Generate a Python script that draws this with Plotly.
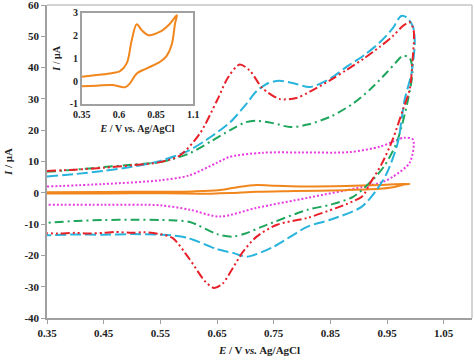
import plotly.graph_objects as go

# ---- data (E / V vs Ag/AgCl, I / uA) ----
red_x = [0.35, 0.40, 0.45, 0.50, 0.55, 0.585, 0.62, 0.65, 0.67, 0.69, 0.708, 0.73, 0.76, 0.79, 0.814, 0.85, 0.879, 0.91, 0.937, 0.96, 0.978, 0.99, 0.997,
         0.995, 0.99, 0.978, 0.96, 0.94, 0.92, 0.907, 0.88, 0.861, 0.81, 0.756, 0.72, 0.696, 0.678, 0.66, 0.645, 0.63, 0.60, 0.572, 0.55, 0.52, 0.50, 0.47, 0.45, 0.42, 0.40, 0.37, 0.35]
red_y = [7.0, 7.4, 8.0, 8.8, 9.8, 12.0, 19.0, 29.5, 37.0, 41.0, 39.0, 33.5, 30.0, 30.3, 32.3, 36.0, 39.3, 43.0, 46.6, 50.0, 53.3, 54.5, 52.0,
         42.0, 33.0, 26.5, 17.0, 9.0, 3.0, -1.0, -3.5, -4.8, -8.0, -10.2, -14.0, -18.8, -24.0, -29.0, -30.4, -28.5, -20.8, -14.5, -13.2, -12.6, -12.8, -12.5, -12.8, -13.0, -12.8, -13.0, -12.9]

cyan_x = [0.35, 0.40, 0.45, 0.50, 0.55, 0.60, 0.64, 0.673, 0.70, 0.72, 0.74, 0.76, 0.785, 0.814, 0.85, 0.879, 0.91, 0.937, 0.96, 0.975, 0.985, 0.996, 0.999,
          0.993, 0.981, 0.969, 0.95, 0.932, 0.905, 0.85, 0.81, 0.749, 0.703, 0.678, 0.65, 0.60, 0.57, 0.55, 0.50, 0.45, 0.40, 0.35]
cyan_y = [5.2, 6.0, 7.0, 8.3, 10.2, 13.5, 18.0, 22.5, 28.0, 32.5, 35.0, 35.8, 35.0, 33.8, 36.5, 40.3, 44.0, 48.0, 52.5, 56.5, 56.0, 53.0, 48.0,
          38.0, 29.7, 16.0, 6.4, 1.0, -4.5, -8.6, -10.8, -17.3, -20.4, -19.2, -18.0, -14.5, -13.6, -13.4, -13.2, -13.4, -13.3, -13.6]

green_x = [0.35, 0.40, 0.45, 0.50, 0.55, 0.60, 0.64, 0.673, 0.70, 0.72, 0.75, 0.779, 0.81, 0.85, 0.89, 0.92, 0.95, 0.965, 0.978, 0.99, 0.995,
           0.987, 0.967, 0.945, 0.925, 0.89, 0.85, 0.81, 0.73, 0.70, 0.678, 0.65, 0.602, 0.57, 0.55, 0.50, 0.45, 0.40, 0.35]
green_y = [6.7, 7.4, 8.2, 9.0, 9.8, 12.5, 16.5, 20.0, 22.5, 23.0, 22.2, 21.0, 21.8, 24.3, 28.5, 33.0, 38.5, 41.5, 43.8, 43.0, 39.0,
           29.7, 16.0, 8.5, 4.2, -1.3, -3.8, -5.4, -10.8, -13.0, -14.0, -13.2, -9.3, -8.8, -8.7, -8.6, -8.7, -9.0, -9.6]

pink_x = [0.35, 0.45, 0.55, 0.60, 0.65, 0.673, 0.73, 0.80, 0.884, 0.937, 0.96, 0.98, 0.996,
          0.99, 0.96, 0.943, 0.907, 0.81, 0.72, 0.655, 0.602, 0.55, 0.45, 0.35]
pink_y = [2.0, 2.8, 4.0, 5.5, 9.6, 11.5, 12.8, 12.9, 13.0, 14.7, 16.3, 17.6, 17.0,
          9.6, 5.1, 3.5, 1.9, -1.6, -4.8, -7.6, -5.4, -4.0, -3.8, -3.8]

orange_x = [0.35, 0.45, 0.55, 0.607, 0.652, 0.686, 0.72, 0.753, 0.798, 0.877, 0.94, 0.99,
            0.978, 0.955, 0.92, 0.877, 0.787, 0.72, 0.674, 0.64, 0.56, 0.45, 0.35]
orange_y = [0.19, 0.27, 0.35, 0.44, 0.78, 1.8, 2.5, 2.24, 2.02, 2.17, 2.5, 2.9,
            2.54, 1.6, 1.1, 0.85, 0.56, 0.34, -0.1, -0.27, -0.17, -0.2, -0.22]

x_ticks = [0.35, 0.45, 0.55, 0.65, 0.75, 0.85, 0.95, 1.05]
y_ticks = [-40, -30, -20, -10, 0, 10, 20, 30, 40, 50, 60]
inset_x_ticks = [0.35, 0.6, 0.85, 1.1]
inset_x_text = ["0.35", "0.6", "0.85", "1.1"]
inset_y_ticks = [-1, 0, 1, 2, 3]

FONT = "Liberation Serif"
fig = go.Figure()

def add(x, y, color, dash, xa="x", ya="y", w=2, sm=0.8):
    fig.add_trace(go.Scatter(x=x, y=y, mode="lines", xaxis=xa, yaxis=ya,
                             line=dict(color=color, width=w, dash=dash, shape="spline", smoothing=sm),
                             showlegend=False, hoverinfo="skip"))

add(pink_x, pink_y, "#e83ce0", "2px,2px")
add(orange_x, orange_y, "#f0861c", "solid")
add(green_x, green_y, "#1ea65c", "9px,4px,2px,4px")
add(cyan_x, cyan_y, "#28b4dc", "11px,4px")
add(red_x, red_y, "#e8202a", "9px,3px,2px,3px,2px,3px")
add(orange_x, orange_y, "#f0861c", "solid", "x2", "y2", 2, 1.0)

tickfont = dict(family=FONT, size=11, color="#222222")
fig.update_layout(
    width=474, height=360,
    margin=dict(l=47, r=2, t=5, b=42, autoexpand=False),
    paper_bgcolor="white", plot_bgcolor="white",
    xaxis=dict(range=[0.35, 1.10], tickvals=x_ticks, ticktext=[f"<b>{v:.2f}</b>" for v in x_ticks],
               showgrid=False, zeroline=False, showline=True, linecolor="#a0a0a0", linewidth=1.5,
               ticks="outside", ticklen=4, tickcolor="#a0a0a0", tickfont=tickfont, automargin=False,
               ticklabeloverflow="allow",
               title=dict(text="<b><i>E</i> / V <i>vs.</i> Ag/AgCl</b>", font=dict(family=FONT, size=11, color="#222"), standoff=8)),
    yaxis=dict(range=[-40, 60], tickvals=y_ticks, ticktext=[f"<b>{v}</b>" for v in y_ticks],
               showgrid=False, zeroline=False, showline=True, linecolor="#a0a0a0", linewidth=1.5,
               ticks="outside", ticklen=4, tickcolor="#a0a0a0", tickfont=tickfont, automargin=False,
               ticklabeloverflow="allow",
               title=dict(text="<b><i>I</i> / μA</b>", font=dict(family=FONT, size=11, color="#222"), standoff=10)),
    xaxis2=dict(domain=[0.082, 0.344], anchor="y2", range=[0.35, 1.10], tickvals=inset_x_ticks,
                ticktext=[f"<b>{t}</b>" for t in inset_x_text], automargin=False,
                showgrid=False, zeroline=False, showline=True, mirror=True, linecolor="#a0a0a0", linewidth=1.5,
                ticks="", tickfont=dict(family=FONT, size=10, color="#222"), ticklabeloverflow="allow",
                title=dict(text="<b><i>E</i> / V <i>vs.</i> Ag/AgCl</b>", font=dict(family=FONT, size=10, color="#222"), standoff=6)),
    yaxis2=dict(domain=[0.684, 0.975], anchor="x2", range=[-1, 3], tickvals=inset_y_ticks,
                ticktext=[f"<b>{v}</b>" for v in inset_y_ticks], automargin=False,
                showgrid=False, zeroline=False, showline=True, mirror=True, linecolor="#a0a0a0", linewidth=1.5,
                ticks="", tickfont=dict(family=FONT, size=10, color="#222"), ticklabeloverflow="allow",
                title=dict(text="<b><i>I</i> / μA</b>", font=dict(family=FONT, size=10, color="#222"), standoff=7)),
    shapes=[
        dict(type="line", xref="paper", yref="paper", x0=0, x1=1, y0=1, y1=1, line=dict(color="#c4c4c4", width=1.5)),
        dict(type="line", xref="paper", yref="paper", x0=1, x1=1, y0=0, y1=1, line=dict(color="#c4c4c4", width=1.5)),
    ],
)

fig.write_html("out.html", config={"displayModeBar": False},
               post_script="document.body.style.margin='0';document.body.style.padding='0';")
